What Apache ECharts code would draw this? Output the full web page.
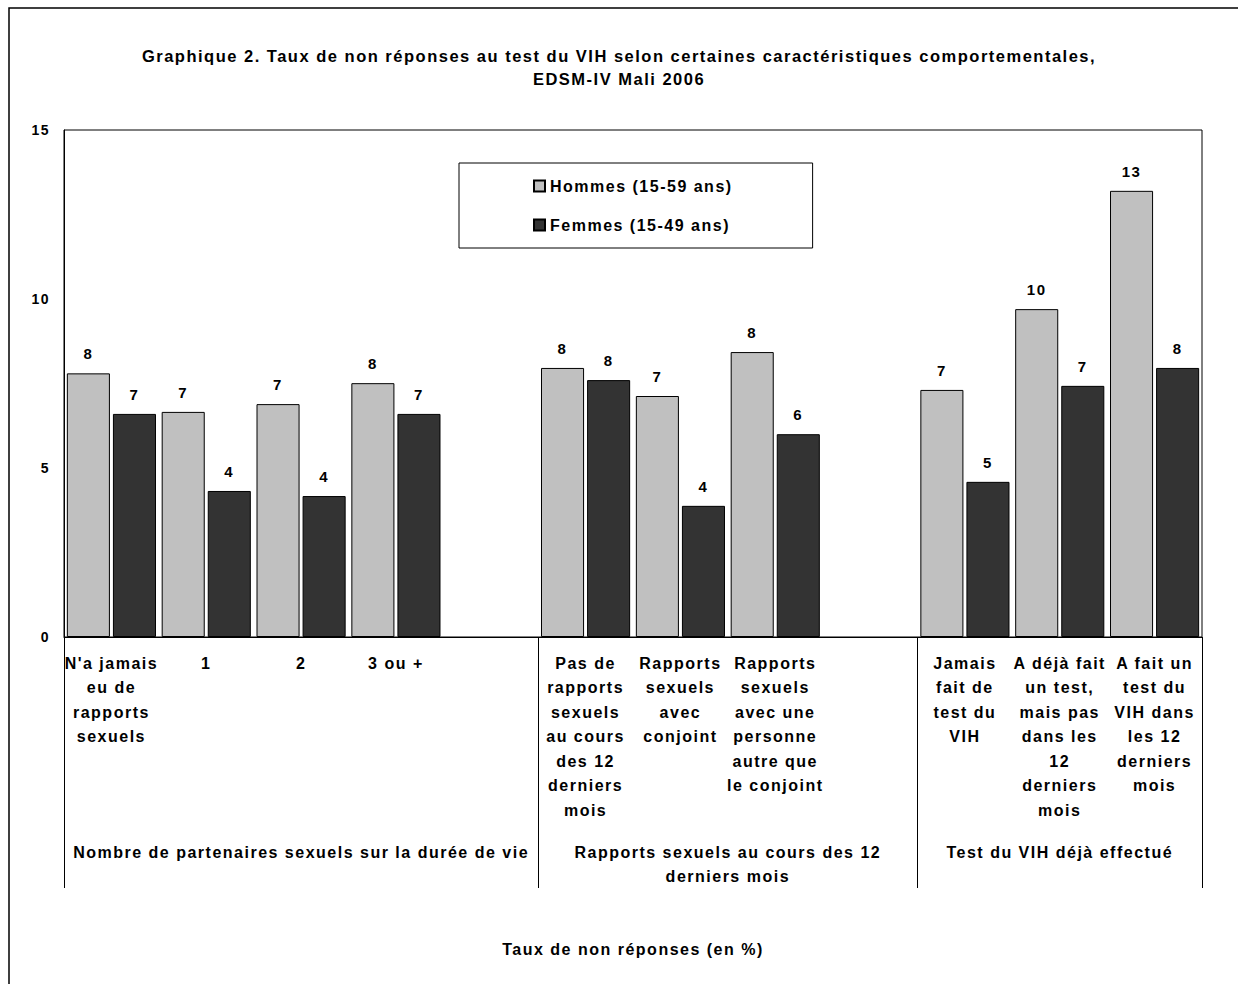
<!DOCTYPE html>
<html>
<head>
<meta charset="utf-8">
<script src="https://cdn.jsdelivr.net/npm/echarts@6/dist/echarts.min.js"></script>
<style>
html,body{margin:0;padding:0;background:#fff;}
#chart{width:1238px;height:984px;}
#chart text{letter-spacing:1.5px;}
</style>
</head>
<body>
<div id="chart"></div>
<script>
const categories = [
  "N'a jamais\neu de\nrapports\nsexuels", "1", "2", "3 ou +", "",
  "Pas de\nrapports\nsexuels\nau cours\ndes 12\nderniers\nmois",
  "Rapports\nsexuels\navec\nconjoint",
  "Rapports\nsexuels\navec une\npersonne\nautre que\nle conjoint", "",
  "Jamais\nfait de\ntest du\nVIH",
  "A déjà fait\nun test,\nmais pas\ndans les\n12\nderniers\nmois",
  "A fait un\ntest du\nVIH dans\nles 12\nderniers\nmois"
];
const hommes = [7.8, 6.66, 6.89, 7.51, null, 7.96, 7.13, 8.43, null, 7.31, 9.7, 13.2];
const femmes = [6.6, 4.32, 4.17, 6.6, null, 7.6, 3.88, 6.0, null, 4.59, 7.43, 7.96];
const groupNames = [
  "Nombre de partenaires sexuels sur la durée de vie",
  "Rapports sexuels au cours des 12\nderniers mois",
  "Test du VIH déjà effectué"
];
const groupBounds = [0, 5, 9, 12];
const groupCenters = [2.5, 7, 10.5];
const yTicks = [0, 5, 10, 15];

const FONT = '"Liberation Sans", Arial, sans-serif';
const chart = echarts.init(document.getElementById('chart'), null, { renderer: 'svg' });

const labelCfg = {
  show: true, position: 'top', distance: 12,
  fontFamily: FONT, fontWeight: 'bold', fontSize: 15, color: '#000',
  formatter: p => (p.value == null ? '' : String(Math.round(p.value)))
};

chart.setOption({
  backgroundColor: '#fff',
  animation: false,
  title: {
    text: 'Graphique 2. Taux de non réponses au test du VIH selon certaines caractéristiques comportementales,\nEDSM-IV Mali 2006',
    left: 'center', top: 39,
    textStyle: { fontFamily: FONT, fontWeight: 'bold', fontSize: 16.5, lineHeight: 23, color: '#000' }
  },
  legend: {
    orient: 'vertical',
    left: 459, top: 163,
    padding: [15, 107, 15, 74],
    itemGap: 23,
    itemWidth: 11, itemHeight: 11,
    icon: 'rect',
    borderColor: '#000', borderWidth: 1,
    textStyle: { fontFamily: FONT, fontWeight: 'bold', fontSize: 16, color: '#000' },
    data: ['Hommes (15-59 ans)', 'Femmes (15-49 ans)']
  },
  graphic: [{
    type: 'rect', silent: true,
    shape: { x: 9, y: 8, width: 1300, height: 1100 },
    style: { fill: 'none', stroke: '#000', lineWidth: 1.5 }
  }],
  grid: {
    left: 64, right: 36, top: 130, bottom: 347,
    show: true, borderColor: '#000', borderWidth: 1,
    backgroundColor: 'transparent',
    containLabel: false, outerBoundsMode: 'none'
  },
  xAxis: [{
    type: 'category', data: categories,
    axisLine: { show: true, lineStyle: { color: '#000', width: 1 } },
    axisTick: { show: false },
    axisLabel: {
      interval: 0, margin: 14, verticalAlign: 'top',
      fontFamily: FONT, fontWeight: 'bold', fontSize: 16, lineHeight: 24.5, color: '#000'
    },
    name: 'Taux de non réponses (en %)',
    nameLocation: 'middle', nameGap: 304,
    nameTextStyle: { fontFamily: FONT, fontWeight: 'bold', fontSize: 16, color: '#000', verticalAlign: 'top' }
  }, {
    type: 'value', position: 'bottom', min: 0, max: 12,
    axisLine: { show: false },
    splitLine: { show: false },
    axisTick: { show: true, customValues: groupBounds, length: 251, lineStyle: { color: '#000', width: 1 } },
    axisLabel: {
      customValues: groupCenters, margin: 203, verticalAlign: 'top', align: 'center',
      fontFamily: FONT, fontWeight: 'bold', fontSize: 16, lineHeight: 24.5, color: '#000',
      formatter: v => { const i = groupCenters.indexOf(v); return i >= 0 ? groupNames[i] : ''; }
    }
  }],
  yAxis: {
    type: 'value', min: 0, max: 15, interval: 5,
    axisLine: { show: true, lineStyle: { color: '#000', width: 1 } },
    axisTick: { show: false },
    splitLine: { show: false },
    axisLabel: {
      margin: 14, fontFamily: FONT, fontWeight: 'bold', fontSize: 14, color: '#000',
      customValues: yTicks
    }
  },
  series: [{
    name: 'Hommes (15-59 ans)', type: 'bar', data: hommes,
    barCategoryGap: '6%', barGap: '7%',
    itemStyle: { color: '#C0C0C0', borderColor: '#000', borderWidth: 1 },
    label: labelCfg
  }, {
    name: 'Femmes (15-49 ans)', type: 'bar', data: femmes,
    barCategoryGap: '6%', barGap: '7%',
    itemStyle: { color: '#333333', borderColor: '#000', borderWidth: 1 },
    label: labelCfg
  }]
});
</script>
</body>
</html>
